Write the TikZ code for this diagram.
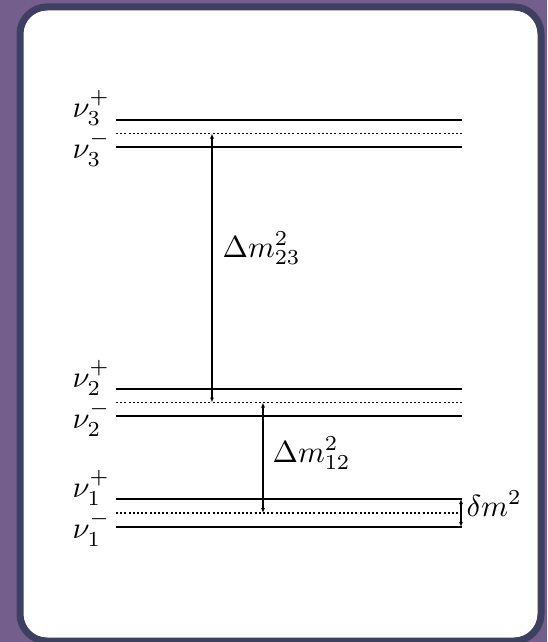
\documentclass[tikz,border=0pt]{standalone}
\usetikzlibrary{arrows.meta}
\definecolor{bgpurple}{RGB}{115,94,140}
\definecolor{framecol}{RGB}{62,64,98}
\begin{document}
\begin{tikzpicture}[x=1pt,y=-1pt,
  lvl/.style={line width=1.8pt},
  midlvl/.style={line width=1.7pt, dash pattern=on 2pt off 2.2pt},
  lab/.style={inner sep=0pt, scale=3.05},
  gaparrow/.style={line width=1.2pt, {Latex[length=5pt,width=4pt]}-{Latex[length=5pt,width=4pt]}}]
\fill[bgpurple] (0,0) rectangle (547,642);
\useasboundingbox (0,0) rectangle (547,642);
\draw[framecol, fill=white, line width=7pt, rounded corners=27pt] (20,7) rectangle (541,641);
% level lines
\foreach \n/\y in {p3/120, m3/147, p2/389, m2/416, p1/499, m1/527}{
  \coordinate (\n a) at (116,\y);
  \coordinate (\n b) at (462,\y);
  \draw[lvl] (\n a) -- (\n b);
}
\foreach \n/\y in {c3/133.5, c2/402.5, c1/513}{
  \coordinate (\n a) at (116,\y);
  \coordinate (\n b) at (462,\y);
  \draw[midlvl] (\n a) -- (\n b);
}
% labels
\node[lab, anchor=base west] (lp3) at (72,117) {$\nu_3^+$};
\node[lab, anchor=base west] (lm3) at (72,158) {$\nu_3^-$};
\node[lab, anchor=base west] (lp2) at (72,387) {$\nu_2^+$};
\node[lab, anchor=base west] (lm2) at (72,428) {$\nu_2^-$};
\node[lab, anchor=base west] (lp1) at (72,497) {$\nu_1^+$};
\node[lab, anchor=base west] (lm1) at (72,538) {$\nu_1^-$};
% arrows
\coordinate (a23t) at (212,133.5);
\coordinate (a23b) at (212,402.5);
\coordinate (a12t) at (263,402.5);
\coordinate (a12b) at (263,513);
\coordinate (dmt) at (461,499);
\coordinate (dmb) at (461,527);
\draw[gaparrow] (a23t) -- (a23b);
\draw[gaparrow] (a12t) -- (a12b);
\draw[gaparrow] (dmt) -- (dmb);
\node[lab, anchor=base west] (l23) at (222,257) {$\Delta m^2_{23}$};
\node[lab, anchor=base west] (l12) at (272,462) {$\Delta m^2_{12}$};
\node[lab, anchor=base west] (ldm) at (466,516) {$\delta m^2$};
\end{tikzpicture}
\end{document}
